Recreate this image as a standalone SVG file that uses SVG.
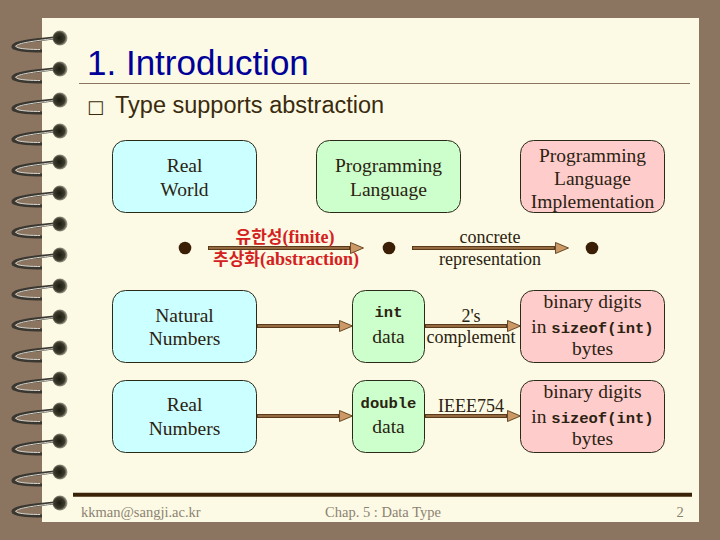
<svg xmlns="http://www.w3.org/2000/svg" width="720" height="540" viewBox="0 0 720 540">
<defs>
<radialGradient id="ball" cx="0.45" cy="0.5" r="0.6">
<stop offset="0" stop-color="#1a1a10"/>
<stop offset="0.6" stop-color="#3c3a2c"/>
<stop offset="1" stop-color="#9a9888" stop-opacity="0.6"/>
</radialGradient>
<g id="ring">
<path d="M42,13 C28,13 12,12 13,8 C14,4 34,2 54,0" fill="none" stroke="#3a3630" stroke-width="3"/>
<path d="M40,11.5 C28,11.5 15,10.5 16,8 C18,5 34,3 54,0.5" fill="none" stroke="#d8d8d0" stroke-width="1"/>
<circle cx="60" cy="0" r="7.5" fill="url(#ball)"/>
</g>
<marker id="ah" markerUnits="userSpaceOnUse" markerWidth="16" markerHeight="14" refX="0" refY="6" orient="auto">
<path d="M0.5,0.5 L13.5,6 L0.5,11.5 Z" fill="#CC9966" stroke="#5A3A1A" stroke-width="0.9"/>
</marker>
<style>
.box{stroke:#2a2a1a;stroke-width:1}
.cy{fill:#CCFFFF}.gr{fill:#CCFFCC}.pk{fill:#FFCCCC}
.t{font-family:"Liberation Serif","Times New Roman",serif;font-size:19.5px;fill:#2B2211;text-anchor:middle}
.m{font-family:"Liberation Mono","Courier New",monospace;font-size:15.5px;font-weight:bold;fill:#2B2211}
.lab{font-family:"Liberation Serif","Times New Roman",serif;font-size:18px;fill:#2B2211;text-anchor:middle}
.red{font-family:"Liberation Serif","Noto Sans CJK KR",serif;font-size:18px;font-weight:bold;fill:#D42020;text-anchor:middle}
.ko{font-family:"Noto Sans CJK KR",sans-serif;font-size:17px}
.shaft{fill:none;stroke:#5A3A1A;stroke-width:4}
.core{fill:none;stroke:#A87B4F;stroke-width:1.3}
.foot{font-family:"Liberation Serif","Times New Roman",serif;font-size:14.5px;fill:#8C8272}
.dot{fill:#3A1E05}
</style>
</defs>
<rect x="0" y="0" width="720" height="540" fill="#8B7560"/>
<rect x="42" y="18" width="657" height="504" fill="#FCFAE4"/>
<g id="binding">
<use href="#ring" y="38"/><use href="#ring" y="69"/><use href="#ring" y="100"/><use href="#ring" y="131"/>
<use href="#ring" y="162"/><use href="#ring" y="193"/><use href="#ring" y="224"/><use href="#ring" y="255"/>
<use href="#ring" y="286"/><use href="#ring" y="317"/><use href="#ring" y="348"/><use href="#ring" y="379"/>
<use href="#ring" y="410"/><use href="#ring" y="441"/><use href="#ring" y="472"/><use href="#ring" y="503"/>
</g>
<g id="title">
<text x="87" y="75" font-family="Liberation Sans, Arial, sans-serif" font-size="35" fill="#000099">1. Introduction</text>
<line x1="79" y1="83.5" x2="690" y2="83.5" stroke="#8B7560" stroke-width="1"/>
<text x="87" y="113" font-family="Liberation Sans, Arial, sans-serif" font-size="23.5" fill="#3A2A0E"><tspan font-family="DejaVu Sans, sans-serif" font-size="18">□</tspan><tspan x="115">Type supports abstraction</tspan></text>
</g>
<g id="connectors">
<path class="shaft" d="M208,248 H350" marker-end="url(#ah)"/><path class="core" d="M209,248 H349"/>
<path class="shaft" d="M412,248 H555" marker-end="url(#ah)"/><path class="core" d="M413,248 H554"/>
<path class="shaft" d="M257,326 H339" marker-end="url(#ah)"/><path class="core" d="M258,326 H338"/>
<path class="shaft" d="M257,416 H339" marker-end="url(#ah)"/><path class="core" d="M258,416 H338"/>
<path class="shaft" d="M425,326 H507" marker-end="url(#ah)"/><path class="core" d="M426,326 H506"/>
<path class="shaft" d="M425,416 H507" marker-end="url(#ah)"/><path class="core" d="M426,416 H506"/>
<text class="red" x="285" y="243"><tspan class="ko">유한성</tspan>(finite)</text>
<text class="red" x="286" y="265"><tspan class="ko">추상화</tspan>(abstraction)</text>
<text class="lab" x="490" y="243">concrete</text>
<text class="lab" x="490" y="265">representation</text>
<text class="lab" x="471" y="322">2's</text>
<text class="lab" x="471" y="343">complement</text>
<text class="lab" x="471" y="412">IEEE754</text>
</g>
<g id="dots">
<circle class="dot" cx="185" cy="248" r="6.3"/>
<circle class="dot" cx="389" cy="248" r="6.3"/>
<circle class="dot" cx="592" cy="248" r="6.3"/>
</g>
<g id="real-world">
<rect class="box cy" x="112.5" y="140.5" width="144" height="72" rx="13"/>
<text class="t" x="184.5" y="172">Real</text>
<text class="t" x="184.5" y="196">World</text>
</g>
<g id="programming-language">
<rect class="box gr" x="316.5" y="140.5" width="144" height="72" rx="13"/>
<text class="t" x="388.5" y="172">Programming</text>
<text class="t" x="388.5" y="196">Language</text>
</g>
<g id="pl-implementation">
<rect class="box pk" x="520.5" y="140.5" width="144" height="72" rx="13"/>
<text class="t" x="592.5" y="162">Programming</text>
<text class="t" x="592.5" y="185">Language</text>
<text class="t" x="592.5" y="208">Implementation</text>
</g>
<g id="natural-numbers">
<rect class="box cy" x="112.5" y="290.5" width="144" height="72" rx="13"/>
<text class="t" x="184.5" y="322">Natural</text>
<text class="t" x="184.5" y="345">Numbers</text>
</g>
<g id="real-numbers">
<rect class="box cy" x="112.5" y="380.5" width="144" height="72" rx="13"/>
<text class="t" x="184.5" y="411">Real</text>
<text class="t" x="184.5" y="435">Numbers</text>
</g>
<g id="int-data">
<rect class="box gr" x="352.5" y="290.5" width="72" height="72" rx="13"/>
<text class="m" x="388.5" y="317" text-anchor="middle">int</text>
<text class="t" x="388.5" y="343">data</text>
</g>
<g id="double-data">
<rect class="box gr" x="352.5" y="380.5" width="72" height="72" rx="13"/>
<text class="m" x="388.5" y="408" text-anchor="middle">double</text>
<text class="t" x="388.5" y="433">data</text>
</g>
<g id="int-bits">
<rect class="box pk" x="520.5" y="290.5" width="144" height="72" rx="13"/>
<text class="t" x="592.5" y="308">binary digits</text>
<text class="t" x="592.5" y="333">in <tspan class="m">sizeof(int)</tspan></text>
<text class="t" x="592.5" y="355">bytes</text>
</g>
<g id="double-bits">
<rect class="box pk" x="520.5" y="380.5" width="144" height="72" rx="13"/>
<text class="t" x="592.5" y="398">binary digits</text>
<text class="t" x="592.5" y="423">in <tspan class="m">sizeof(int)</tspan></text>
<text class="t" x="592.5" y="445">bytes</text>
</g>
<g id="footer">
<line x1="73" y1="494.7" x2="692" y2="494.7" stroke="#3A2208" stroke-width="4"/>
<text class="foot" x="81" y="517">kkman@sangji.ac.kr</text>
<text class="foot" x="383" y="517" text-anchor="middle">Chap. 5 : Data Type</text>
<text class="foot" x="680" y="517" text-anchor="middle">2</text>
</g>
</svg>
